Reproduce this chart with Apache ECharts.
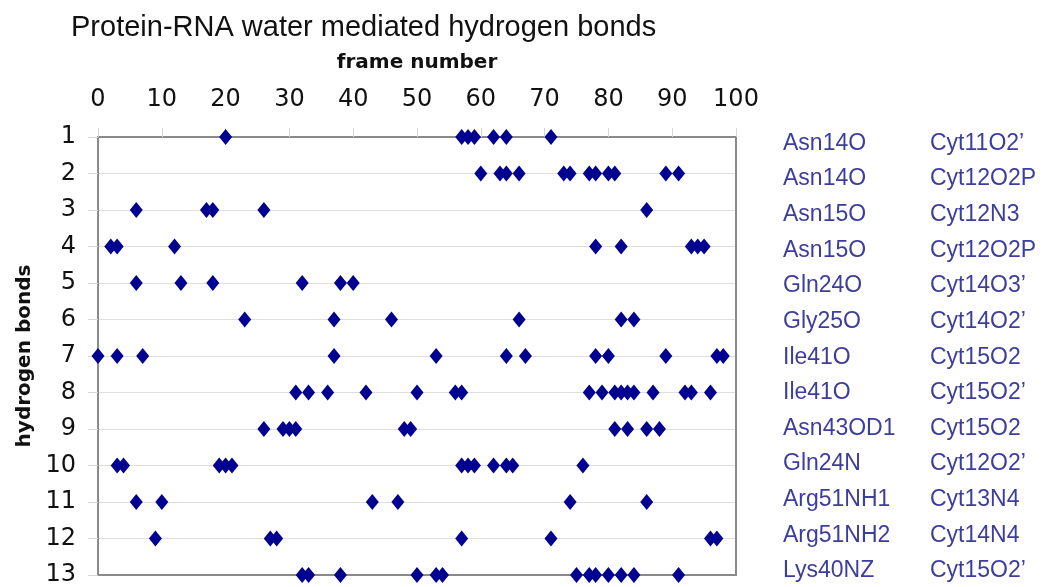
<!DOCTYPE html>
<html>
<head>
<meta charset="utf-8">
<script src="https://cdn.jsdelivr.net/npm/echarts@6/dist/echarts.min.js"></script>
<style>
html,body{margin:0;padding:0;background:#fff;}
#chart{width:1043px;height:587px;}
</style>
</head>
<body>
<div id="chart"></div>
<script>
// Frame numbers where each hydrogen bond (row 1..13) is present
const row1  = [20, 57, 58, 59, 62, 64, 71];
const row2  = [60, 63, 64, 66, 73, 74, 77, 78, 80, 81, 89, 91];
const row3  = [6, 17, 18, 26, 86];
const row4  = [2, 3, 12, 78, 82, 93, 94, 95];
const row5  = [6, 13, 18, 32, 38, 40];
const row6  = [23, 37, 46, 66, 82, 84];
const row7  = [0, 3, 7, 37, 53, 64, 67, 78, 80, 89, 97, 98];
const row8  = [31, 33, 36, 42, 50, 56, 57, 77, 79, 81, 82, 83, 84, 87, 92, 93, 96];
const row9  = [26, 29, 30, 31, 48, 49, 81, 83, 86, 88];
const row10 = [3, 4, 19, 20, 21, 57, 58, 59, 62, 64, 65, 76];
const row11 = [6, 10, 43, 47, 74, 86];
const row12 = [9, 27, 28, 57, 71, 96, 97];
const row13 = [32, 33, 38, 50, 53, 54, 75, 77, 78, 80, 82, 84, 91];
const rows = [row1, row2, row3, row4, row5, row6, row7, row8, row9, row10, row11, row12, row13];

const proteinAtoms = ["Asn14O", "Asn14O", "Asn15O", "Asn15O", "Gln24O", "Gly25O", "Ile41O", "Ile41O", "Asn43OD1", "Gln24N", "Arg51NH1", "Arg51NH2", "Lys40NZ"];
const rnaAtoms = ["Cyt11O2\u2019", "Cyt12O2P", "Cyt12N3", "Cyt12O2P", "Cyt14O3\u2019", "Cyt14O2\u2019", "Cyt15O2", "Cyt15O2\u2019", "Cyt15O2", "Cyt12O2\u2019", "Cyt13N4", "Cyt14N4", "Cyt15O2\u2019"];

const titleText = "Protein-RNA water mediated hydrogen bonds";
const xName = "frame number";
const yName = "hydrogen bonds";

const points = [];
rows.forEach((r, i) => r.forEach(f => points.push([f, i + 1])));

const chart = echarts.init(document.getElementById('chart'), null, {renderer: 'canvas'});
const borderColor = '#8a8a8a';
const gridColor = '#dedede';
const labelColor = '#3d3d9e';

const labelAxis = (labels, margin) => ({
  type: 'value', gridIndex: 1, min: 1, max: 13, interval: 1, inverse: true, position: 'right',
  axisLine: {show: false}, axisTick: {show: false}, splitLine: {show: false},
  axisLabel: {
    margin: margin, align: 'left', color: labelColor,
    fontFamily: 'Liberation Sans', fontSize: 23,
    formatter: v => labels[v - 1] || ''
  }
});

chart.setOption({
  animation: false,
  backgroundColor: '#fff',
  title: {
    text: titleText, left: 66, top: 8,
    textStyle: {fontFamily: 'Liberation Sans', fontSize: 29, fontWeight: 'normal', color: '#111'}
  },
  grid: [
    {left: 98, right: 307, top: 137, bottom: 12, containLabel: false},
    {left: 98, right: 307, top: 143.5, bottom: 16, containLabel: false}
  ],
  xAxis: [{
    type: 'value', min: 0, max: 100, interval: 10, position: 'top',
    name: xName, nameLocation: 'middle', nameGap: 64,
    nameTextStyle: {fontFamily: 'DejaVu Sans', fontWeight: 'bold', fontSize: 20, color: '#111'},
    axisLine: {show: true, onZero: false, lineStyle: {color: borderColor, width: 2}},
    axisTick: {show: true, inside: false, length: 9, lineStyle: {color: '#d6d6d6'}},
    splitLine: {show: false},
    axisLabel: {margin: 25, fontFamily: 'DejaVu Sans', fontSize: 24, color: '#111'}
  }, {
    type: 'value', min: 0, max: 100, interval: 10, position: 'bottom',
    axisLine: {show: true, onZero: false, lineStyle: {color: borderColor, width: 2}},
    axisTick: {show: false}, axisLabel: {show: false}, splitLine: {show: false}
  }, {
    type: 'value', gridIndex: 1, min: 0, max: 100, show: false
  }],
  yAxis: [{
    type: 'value', min: 1, max: 13, interval: 1, inverse: true, position: 'left',
    name: yName, nameLocation: 'middle', nameGap: 63, nameRotate: 90,
    nameTextStyle: {fontFamily: 'DejaVu Sans', fontWeight: 'bold', fontSize: 20, color: '#111'},
    axisLine: {show: true, onZero: false, lineStyle: {color: borderColor, width: 2}},
    axisTick: {show: true, length: 10, lineStyle: {color: '#d6d6d6'}},
    splitLine: {show: true, lineStyle: {color: gridColor, width: 1}},
    axisLabel: {margin: 22, fontFamily: 'DejaVu Sans', fontSize: 24, color: '#111'}
  }, {
    type: 'value', min: 1, max: 13, interval: 1, inverse: true, position: 'right',
    axisLine: {show: true, onZero: false, lineStyle: {color: borderColor, width: 2}},
    axisTick: {show: false}, axisLabel: {show: false}, splitLine: {show: false}
  },
  labelAxis(proteinAtoms, 47),
  labelAxis(rnaAtoms, 194)
  ],
  series: [{
    type: 'scatter', xAxisIndex: 0, yAxisIndex: 0,
    symbol: 'diamond', symbolSize: [13, 16],
    itemStyle: {color: '#000090', opacity: 1},
    data: points, z: 5
  }]
});
</script>
</body>
</html>
